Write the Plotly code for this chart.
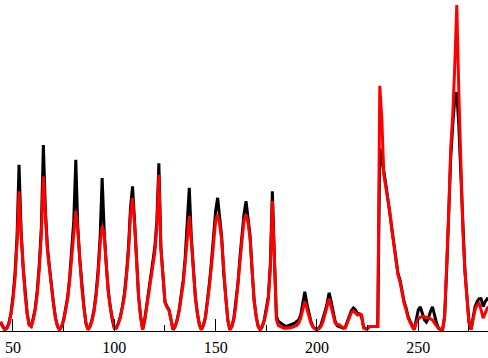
import plotly.graph_objects as go

# x positions (integer days)
x_vals = list(range(44, 286))

black_vals = [
    0.02, 0.008, 0.0, 0.005, 0.02, 0.05, 0.10, 0.17, 0.28, 0.50,          # 44-53
    0.30, 0.19, 0.11, 0.05, 0.015, 0.01, 0.035, 0.065, 0.12, 0.20,        # 54-63
    0.31, 0.56, 0.36, 0.25, 0.19, 0.13, 0.08, 0.035, 0.01, 0.0,           # 64-73
    0.01, 0.03, 0.06, 0.10, 0.16, 0.24, 0.33, 0.515, 0.31, 0.21,          # 74-83
    0.13, 0.07, 0.02, 0.0, 0.01, 0.03, 0.06, 0.11, 0.18, 0.28,            # 84-93
    0.46, 0.30, 0.20, 0.12, 0.07, 0.03, 0.005, 0.005, 0.02, 0.04,         # 94-103
    0.07, 0.11, 0.17, 0.25, 0.37, 0.435, 0.33, 0.20, 0.10, 0.04,          # 104-113
    0.0, 0.03, 0.075, 0.11, 0.155, 0.20, 0.25, 0.33, 0.505, 0.25,         # 114-123
    0.165, 0.085, 0.07, 0.06, 0.03, 0.0, 0.01, 0.03, 0.06, 0.10,          # 124-133
    0.15, 0.22, 0.31, 0.43, 0.28, 0.18, 0.10, 0.05, 0.015, 0.0,           # 134-143
    0.015, 0.04, 0.09, 0.145, 0.21, 0.29, 0.36, 0.40, 0.34, 0.28,         # 144-153
    0.17, 0.10, 0.03, 0.0, 0.01, 0.035, 0.08, 0.14, 0.22, 0.29,           # 154-163
    0.35, 0.39, 0.34, 0.285, 0.18, 0.09, 0.04, 0.01, 0.0, 0.01,           # 164-173
    0.03, 0.06, 0.10, 0.20, 0.42, 0.22, 0.04, 0.025, 0.02, 0.015,         # 174-183
    0.012, 0.01, 0.012, 0.015, 0.018, 0.02, 0.025, 0.03, 0.045, 0.08,     # 184-193
    0.115, 0.08, 0.05, 0.025, 0.01, 0.003, 0.0, 0.005, 0.015, 0.033,      # 194-203
    0.055, 0.08, 0.112, 0.085, 0.05, 0.025, 0.012, 0.01, 0.008, 0.005,    # 204-213
    0.008, 0.025, 0.045, 0.058, 0.066, 0.06, 0.05, 0.048, 0.04, 0.008,    # 214-223
    0.003, 0.004, 0.01, 0.01, 0.01, 0.01, 0.01, 0.55, 0.52, 0.48,         # 224-233
    0.44, 0.395, 0.36, 0.31, 0.26, 0.21, 0.17, 0.15, 0.115, 0.085,        # 234-243
    0.065, 0.04, 0.025, 0.01, 0.0, 0.03, 0.06, 0.069, 0.05, 0.03,         # 244-253
    0.023, 0.035, 0.055, 0.069, 0.045, 0.02, 0.005, 0.0, 0.0, 0.04,       # 254-263
    0.18, 0.35, 0.52, 0.62, 0.70, 0.72, 0.62, 0.47, 0.30, 0.18,           # 264-273
    0.10, 0.025, 0.0, 0.035, 0.07, 0.085, 0.094, 0.094, 0.07, 0.085,      # 274-283
    0.094, 0.09,                                                          # 284-285
]

red_vals = [
    0.025, 0.008, 0.0, 0.004, 0.018, 0.045, 0.09, 0.155, 0.26, 0.42,      # 44-53
    0.29, 0.18, 0.105, 0.048, 0.014, 0.01, 0.03, 0.06, 0.11, 0.185,       # 54-63
    0.29, 0.465, 0.35, 0.24, 0.185, 0.125, 0.078, 0.034, 0.01, 0.0,       # 64-73
    0.009, 0.027, 0.055, 0.093, 0.15, 0.22, 0.30, 0.36, 0.30, 0.205,      # 74-83
    0.125, 0.068, 0.02, 0.0, 0.009, 0.027, 0.055, 0.10, 0.165, 0.26,      # 84-93
    0.315, 0.29, 0.195, 0.115, 0.068, 0.03, 0.005, 0.005, 0.018, 0.037,   # 94-103
    0.065, 0.10, 0.16, 0.235, 0.35, 0.40, 0.32, 0.195, 0.097, 0.039,      # 104-113
    0.0, 0.028, 0.07, 0.10, 0.145, 0.185, 0.235, 0.31, 0.47, 0.245,       # 114-123
    0.16, 0.083, 0.068, 0.058, 0.029, 0.0, 0.009, 0.028, 0.055, 0.093,    # 124-133
    0.14, 0.205, 0.29, 0.345, 0.27, 0.175, 0.097, 0.048, 0.015, 0.0,      # 134-143
    0.014, 0.037, 0.083, 0.135, 0.195, 0.265, 0.33, 0.35, 0.32, 0.27,     # 144-153
    0.165, 0.097, 0.03, 0.0, 0.009, 0.032, 0.074, 0.13, 0.205, 0.27,      # 154-163
    0.33, 0.35, 0.325, 0.275, 0.175, 0.087, 0.039, 0.01, 0.0, 0.009,      # 164-173
    0.028, 0.055, 0.093, 0.185, 0.39, 0.20, 0.03, 0.012, 0.008, 0.006,    # 174-183
    0.004, 0.004, 0.005, 0.006, 0.008, 0.01, 0.013, 0.02, 0.035, 0.06,    # 184-193
    0.085, 0.065, 0.04, 0.02, 0.008, 0.003, 0.0, 0.003, 0.01, 0.025,      # 194-203
    0.045, 0.07, 0.094, 0.07, 0.04, 0.02, 0.015, 0.015, 0.01, 0.005,      # 204-213
    0.005, 0.02, 0.038, 0.052, 0.057, 0.05, 0.045, 0.048, 0.045, 0.005,   # 214-223
    0.002, 0.004, 0.01, 0.01, 0.01, 0.01, 0.01, 0.74, 0.64, 0.47,         # 224-233
    0.43, 0.385, 0.356, 0.30, 0.25, 0.20, 0.165, 0.145, 0.11, 0.08,       # 234-243
    0.06, 0.035, 0.022, 0.008, 0.0, 0.02, 0.032, 0.038, 0.04, 0.04,       # 244-253
    0.038, 0.036, 0.034, 0.03, 0.02, 0.01, 0.003, 0.0, 0.0, 0.04,         # 254-263
    0.18, 0.35, 0.55, 0.65, 0.80, 0.985, 0.72, 0.48, 0.30, 0.18,          # 264-273
    0.10, 0.02, 0.0, 0.03, 0.06, 0.075, 0.079, 0.06, 0.035, 0.05,         # 274-283
    0.065, 0.07,                                                          # 284-285
]

tick_vals = [50, 100, 150, 200, 250]
tick_text = ["50", "100", "150", "200", "250"]
minor_tick_vals = [75, 125, 175, 225, 275]

fig = go.Figure()
fig.add_trace(go.Scatter(x=x_vals, y=black_vals, mode="lines",
                         line=dict(color="black", width=3), showlegend=False))
fig.add_trace(go.Scatter(x=x_vals, y=red_vals, mode="lines",
                         line=dict(color="red", width=3), showlegend=False))

fig.update_layout(
    width=488, height=358,
    margin=dict(l=0, r=0, t=0, b=27, pad=0),
    paper_bgcolor="white", plot_bgcolor="white",
    xaxis=dict(
        range=[43.6, 284.4],
        showline=True, linecolor="black", linewidth=1,
        ticks="inside", ticklen=12, tickcolor="black", tickwidth=1,
        tickvals=tick_vals, ticktext=tick_text,
        ticklabelstandoff=2,
        tickfont=dict(family="Liberation Serif", size=16, color="black"),
        showgrid=False, zeroline=False,
        minor=dict(tickvals=minor_tick_vals, ticks="inside",
                   ticklen=6, tickcolor="black", showgrid=False),
    ),
    yaxis=dict(range=[-0.004, 1.0], visible=False, showgrid=False, zeroline=False),
)

fig.write_html("out.html")
